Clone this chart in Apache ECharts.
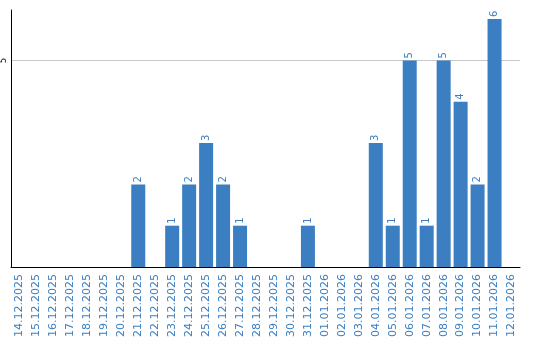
<!DOCTYPE html>
<html><head><meta charset="utf-8">
<script src="https://cdn.jsdelivr.net/npm/echarts@6/dist/echarts.min.js"></script>
<style>html,body{margin:0;padding:0;background:#fff}#c{width:540px;height:340px}</style>
</head><body><div id="c"></div>
<script>
const categories = ['14.12.2025','15.12.2025','16.12.2025','17.12.2025','18.12.2025','19.12.2025','20.12.2025','21.12.2025','22.12.2025','23.12.2025','24.12.2025','25.12.2025','26.12.2025','27.12.2025','28.12.2025','29.12.2025','30.12.2025','31.12.2025','01.01.2026','02.01.2026','03.01.2026','04.01.2026','05.01.2026','06.01.2026','07.01.2026','08.01.2026','09.01.2026','10.01.2026','11.01.2026','12.01.2026'];
const values = [0,0,0,0,0,0,0,2,0,1,2,3,2,1,0,0,0,1,0,0,0,3,1,5,1,5,4,2,6,0];
const yTicks = [5];
const barColor = '#3b7ec2';
const chart = echarts.init(document.getElementById('c'), null, {renderer:'canvas'});
chart.setOption({
  animation:false,
  grid:{left:10, top:10, width:510, height:260, containLabel:false},
  xAxis:{type:'category', data:categories,
    axisLine:{show:true, lineStyle:{color:'#000', width:1}},
    axisTick:{show:false},
    axisLabel:{rotate:90, interval:0, color:'#3b7ec2', fontSize:11, fontFamily:'DejaVu Sans', margin:7}
  },
  yAxis:{type:'value', min:0, max:6.22, interval:5,
    axisLine:{show:true, lineStyle:{color:'#000', width:1}},
    axisTick:{show:false},
    splitLine:{show:true, showMinLine:false, showMaxLine:false, lineStyle:{color:'#c8c8c8', width:1}},
    axisLabel:{rotate:90, color:'#000', fontSize:8, fontFamily:'DejaVu Sans', margin:3,
      showMaxLabel:false, formatter:v=> yTicks.includes(v) ? String(v) : ''}
  },
  series:[{type:'bar', data:values, barWidth:14, itemStyle:{color:barColor},
    label:{show:true, position:'top', rotate:90, align:'left', verticalAlign:'middle', distance:2,
      color:'#3b7ec2', fontSize:10, fontFamily:'DejaVu Sans',
      formatter:p=> p.value ? String(p.value) : ''}
  }]
});
</script></body></html>
